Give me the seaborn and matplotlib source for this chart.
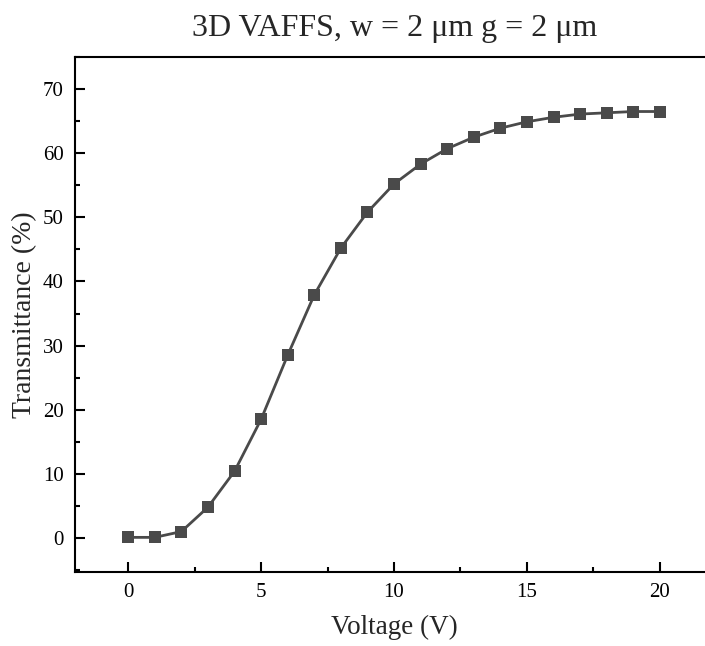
import matplotlib
matplotlib.use("Agg")
import matplotlib.pyplot as plt
import seaborn as sns
import pandas as pd
from matplotlib.ticker import MultipleLocator

voltage = [0, 1, 2, 3, 4, 5, 6, 7, 8, 9, 10, 11, 12, 13, 14, 15, 16, 17, 18, 19, 20]
transmittance = [0.1, 0.1, 1.0, 4.8, 10.4, 18.5, 28.5, 37.9, 45.2, 50.8, 55.2,
                 58.3, 60.7, 62.5, 63.9, 64.9, 65.6, 66.1, 66.3, 66.5, 66.5]

df = pd.DataFrame({"Voltage": voltage, "Transmittance": transmittance})

sns.set_theme(style="ticks")
plt.rcParams['font.family'] = ['Liberation Serif', 'DejaVu Serif']

fig = plt.figure(figsize=(7.05, 6.46), dpi=100)
ax = fig.add_axes([75/705, 74/646, 638/705, 515/646])

sns.lineplot(data=df, x="Voltage", y="Transmittance", ax=ax, color="#4a4a4a",
             marker="s", markersize=9, markeredgewidth=0, linewidth=2)

ax.set_xlim(-2, 22)
ax.set_ylim(-5.3, 75)
ax.xaxis.set_major_locator(MultipleLocator(5))
ax.xaxis.set_minor_locator(MultipleLocator(2.5))
ax.yaxis.set_major_locator(MultipleLocator(10))
ax.yaxis.set_minor_locator(MultipleLocator(5))
ax.tick_params(which="both", direction="in", colors="black", labelsize=15, width=1.5)
ax.tick_params(which="major", length=7, pad=8)
ax.tick_params(which="minor", length=3.5)
for s in ax.spines.values():
    s.set_linewidth(1.5)
    s.set_color("black")
ax.spines["right"].set_visible(False)

ax.set_xlabel("Voltage (V)", fontsize=19.5, labelpad=9)
ax.set_ylabel("Transmittance (%)", fontsize=20, labelpad=4)
fig.suptitle("3D VAFFS, w = 2 μm g = 2 μm", fontsize=23, x=395/705, y=0.978)

fig.savefig("out.png", dpi=100)
